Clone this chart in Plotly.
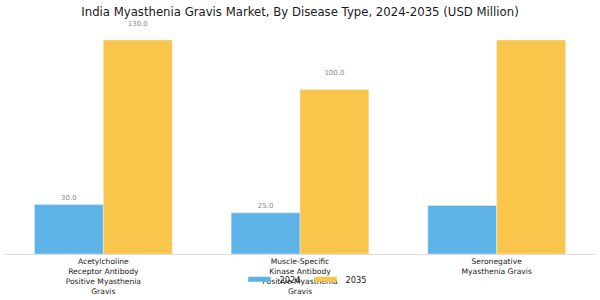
import plotly.graph_objects as go

categories = ["Acetylcholine<br>Receptor Antibody<br>Positive Myasthenia<br>Gravis",
              "Muscle-Specific<br>Kinase Antibody<br>Positive Myasthenia<br>Gravis",
              "Seronegative<br>Myasthenia Gravis"]
v2024 = [30.0, 25.0, 29.5]
v2035 = [130.0, 100.0, 130.0]
labels2024 = ["30.0", "25.0", ""]
labels2035 = ["130.0<br> ", "100.0<br> ", ""]
series_names = ["2024", "2035"]
colors = ["#5DB3E7", "#F9C54B"]

fig = go.Figure()
for name, vals, labs, col in zip(series_names, [v2024, v2035], [labels2024, labels2035], colors):
    fig.add_trace(go.Bar(x=categories, y=vals, name=name, marker_color=col,
                         text=labs, textposition="outside", showlegend=False,
                         textfont=dict(size=7, color="#888888"), cliponaxis=False))
# legend entries (wide flat swatches)
for name, col in zip(series_names, colors):
    fig.add_trace(go.Scatter(x=[None], y=[None], name=name, mode="markers",
                             marker=dict(symbol="line-ew", size=16, color=col,
                                         line=dict(width=5, color=col))))

fig.update_layout(
    width=600, height=300,
    margin=dict(l=5, r=5, t=30, b=46),
    paper_bgcolor="white", plot_bgcolor="white",
    font=dict(family="DejaVu Sans", color="#222222"),
    title=dict(text="India Myasthenia Gravis Market, By Disease Type, 2024-2035 (USD Million)",
               x=0.5, xanchor="center", y=0.96, yanchor="middle",
               font=dict(size=11.7, color="#1a1a1a")),
    barmode="group", bargap=0.3, bargroupgap=0,
    showlegend=True,
    legend=dict(orientation="h", x=0.51, xanchor="center", y=-0.113, yanchor="middle",
                font=dict(size=8.3), bgcolor="rgba(0,0,0,0)", itemwidth=30,
                itemsizing="trace", tracegroupgap=0),
    xaxis=dict(showline=True, linecolor="#DDDDDD", linewidth=1, ticks="",
               tickfont=dict(size=7.6, color="#222222"), showgrid=False,
               automargin=False),
    yaxis=dict(visible=False, range=[0, 136.1], showgrid=False, automargin=False),
)
fig.write_html("out.html")
